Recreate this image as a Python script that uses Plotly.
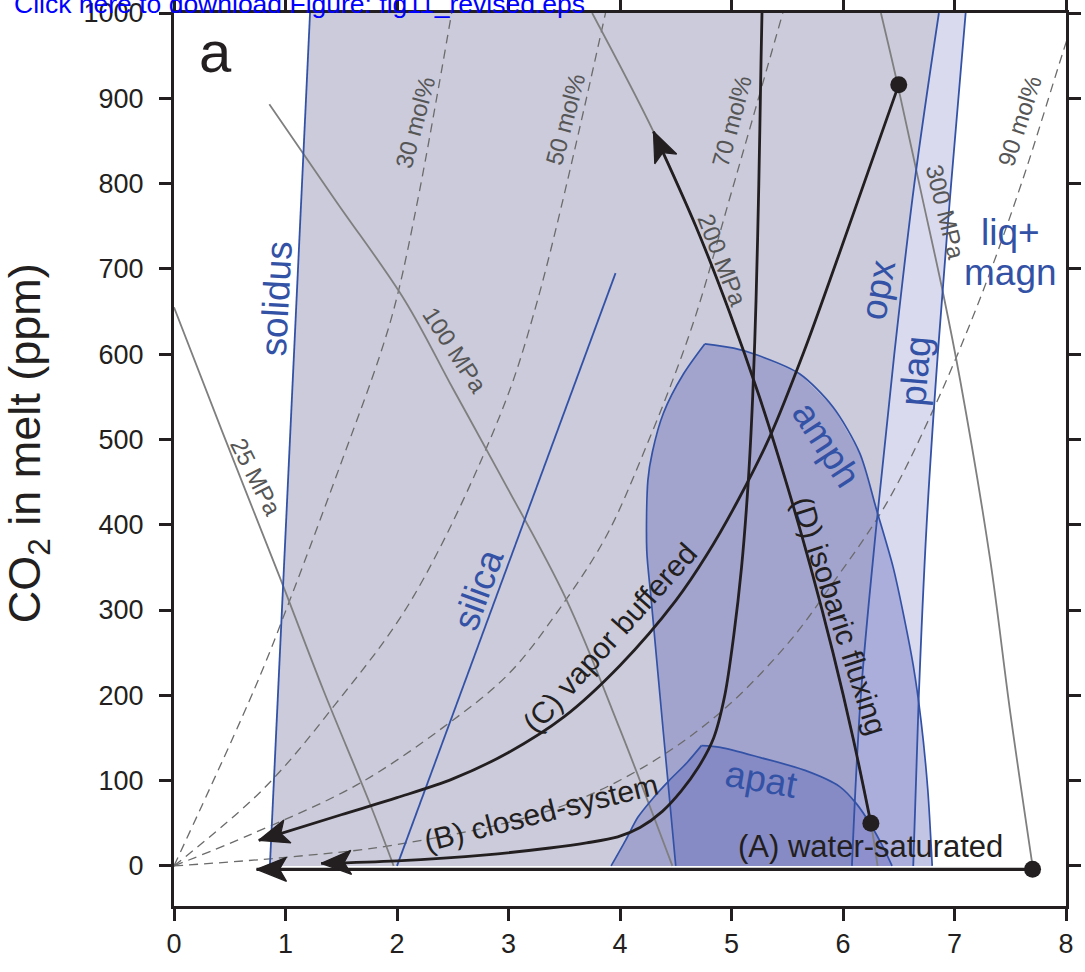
import math
import plotly.graph_objects as go

# ---------------------------------------------------------------
# Phase boundaries: H2O in melt (wt%) vs CO2 in melt (ppm)
# ---------------------------------------------------------------
solidus_h2o = [0.86, 1.22]
solidus_co2 = [0, 1000]

silica_h2o = [2.00, 3.96]
silica_co2 = [0, 695]

opx_h2o = [6.08, 6.16, 6.30, 6.46, 6.64, 6.86]
opx_co2 = [0, 200, 400, 600, 800, 1000]

plag_h2o = [6.63, 6.68, 6.75, 6.85, 6.97, 7.10]
plag_co2 = [0, 200, 400, 600, 800, 1000]

# amphibole field: low-H2O limb (bottom -> apex) and high-H2O limb (apex -> bottom)
amph_left_h2o = [4.50, 4.39, 4.28, 4.24, 4.25, 4.29, 4.39, 4.57, 4.76]
amph_left_co2 = [0, 155, 312, 370, 452, 485, 531, 577, 612]
amph_right_h2o = [4.76, 5.02, 5.23, 5.61, 5.91, 6.15, 6.30, 6.45, 6.55, 6.63, 6.70, 6.76, 6.80]
amph_right_co2 = [612, 607, 599, 577, 538, 484, 418, 350, 290, 235, 170, 90, 0]

# apatite field
apat_left_h2o = [3.92, 4.05, 4.16, 4.30, 4.44, 4.60, 4.73]
apat_left_co2 = [0, 30, 57, 80, 100, 121, 141]
apat_right_h2o = [4.73, 4.90, 5.26, 5.66, 5.97, 6.12, 6.25, 6.36, 6.44]
apat_right_co2 = [141, 139, 127, 112, 93, 73, 48, 22, 0]

# Vapour-composition isopleths (mol% H2O in vapour)
iso30_h2o = [0, 0.73, 1.04, 1.52, 1.85, 2.00, 2.20, 2.49]
iso30_co2 = [0, 210, 312, 480, 600, 667, 790, 1000]
iso50_h2o = [0, 0.80, 1.45, 2.13, 2.92, 3.26, 3.87]
iso50_co2 = [0, 90, 190, 312, 527, 663, 1000]
iso70_h2o = [0, 0.69, 1.64, 2.42, 3.00, 3.45, 3.87, 4.22, 4.64, 5.00, 5.46]
iso70_co2 = [0, 37, 95, 163, 225, 300, 385, 487, 630, 790, 1000]
iso90_h2o = [0, 1.00, 2.00, 3.37, 4.20, 4.90, 5.50, 5.90, 6.39, 6.81, 7.22, 7.60, 7.97, 8.10]
iso90_co2 = [0, 10, 25, 65, 115, 180, 260, 330, 425, 535, 662, 800, 953, 1005]

# Isobars
p25_h2o = [0, 0.43, 0.95, 1.34, 1.76, 1.97]
p25_co2 = [655, 510, 338, 206, 72, 0]
p100_h2o = [0.855, 1.45, 2.07, 2.50, 2.92, 3.52, 4.00, 4.47]
p100_co2 = [893, 780, 663, 560, 460, 312, 160, 0]
p200_h2o = [3.75, 4.30, 4.68, 4.98, 5.25, 5.49, 5.71, 5.91, 6.09, 6.25, 6.31]
p200_co2 = [1000, 861, 750, 650, 550, 450, 350, 250, 150, 50, 0]
p300_h2o = [6.34, 6.49, 6.70, 6.90, 7.05, 7.32, 7.50, 7.70]
p300_co2 = [1000, 916, 790, 670, 570, 359, 180, 0]

# Degassing paths
pathA_h2o = [7.70, 0.74]
pathA_co2 = [-4, -4]
pathB_h2o = [5.275, 5.265, 5.245, 5.22, 5.19, 5.15, 5.09, 5.02, 4.94, 4.84, 4.70,
             4.55, 4.38, 4.18, 3.98, 3.70, 3.37, 2.80, 2.00, 1.32]
pathB_co2 = [1010, 945, 800, 663, 550, 450, 350, 270, 200, 150, 115,
             88, 64, 45, 34, 27, 21, 13, 6, 3]
pathC_h2o = [6.50, 6.22, 5.94, 5.65, 5.35, 5.06, 4.78, 4.50, 4.00, 3.50, 3.00,
             2.50, 2.00, 1.50, 0.76]
pathC_co2 = [916, 812, 708, 603, 505, 429, 365, 311, 235, 175, 133,
             102, 80, 60, 30]
pathD_h2o = [6.25, 6.09, 5.91, 5.71, 5.49, 5.25, 4.98, 4.68, 4.30]
pathD_co2 = [50, 150, 250, 350, 450, 550, 650, 750, 861]

x_ticks = [0, 1, 2, 3, 4, 5, 6, 7, 8]
y_ticks = [0, 100, 200, 300, 400, 500, 600, 700, 800, 900, 1000]

# ---------------------------------------------------------------
INK = "#231F20"
BLUE = "#3352A6"
ISOBAR = "#7F7F7F"
DASHC = "#6B6B6B"
LABELGRAY = "#555555"
FONT = "Liberation Sans, Arial, Helvetica, sans-serif"

W, H = 1085, 972
M_L, M_R, M_T, M_B = 174, 19, 13, 66
X_RANGE = [0, 8]
Y_RANGE = [-47, 1000]
PX_X = (W - M_L - M_R) / (X_RANGE[1] - X_RANGE[0])
PX_Y = (H - M_T - M_B) / (Y_RANGE[1] - Y_RANGE[0])

fig = go.Figure()


def line(x, y, color, width, dash=None, shape="linear", smoothing=1.0):
    fig.add_trace(go.Scatter(
        x=x, y=y, mode="lines", hoverinfo="skip", showlegend=False,
        line=dict(color=color, width=width, dash=dash, shape=shape,
                  smoothing=smoothing if shape == "spline" else None)))


def field(x, y, fill):
    fig.add_trace(go.Scatter(
        x=x, y=y, mode="lines", fill="toself", fillcolor=fill,
        hoverinfo="skip", showlegend=False,
        line=dict(color="rgba(0,0,0,0)", width=0)))


# stability fields (plag field, opx+plag field, amph, apatite)
field(solidus_h2o + plag_h2o[::-1], solidus_co2 + plag_co2[::-1], "#D9DAEE")
field(solidus_h2o + opx_h2o[::-1], solidus_co2 + opx_co2[::-1], "#CBCBDB")
field(amph_left_h2o + amph_right_h2o[1:], amph_left_co2 + amph_right_co2[1:],
      "rgba(90,95,182,0.36)")
field(apat_left_h2o + apat_right_h2o[1:], apat_left_co2 + apat_right_co2[1:],
      "rgba(90,95,182,0.36)")

# isopleths
for xs, ys in [(iso30_h2o, iso30_co2), (iso50_h2o, iso50_co2),
               (iso70_h2o, iso70_co2), (iso90_h2o, iso90_co2)]:
    line(xs, ys, DASHC, 1.3, dash="9px,6px", shape="spline")

# isobars
for xs, ys in [(p25_h2o, p25_co2), (p100_h2o, p100_co2),
               (p200_h2o, p200_co2), (p300_h2o, p300_co2)]:
    line(xs, ys, ISOBAR, 1.8, shape="spline")

# phase-in curves and field outlines
line(solidus_h2o, solidus_co2, BLUE, 1.8)
line(silica_h2o, silica_co2, BLUE, 1.8)
line(opx_h2o, opx_co2, BLUE, 1.8, shape="spline")
line(plag_h2o, plag_co2, BLUE, 1.8, shape="spline")
for xs, ys in [(amph_left_h2o, amph_left_co2), (amph_right_h2o, amph_right_co2),
               (apat_left_h2o, apat_left_co2), (apat_right_h2o, apat_right_co2)]:
    line(xs, ys, BLUE, 1.7, shape="spline", smoothing=0.8)

# degassing paths
line(pathA_h2o, pathA_co2, INK, 3.2)
line(pathB_h2o, pathB_co2, INK, 2.8, shape="spline", smoothing=0.9)
line(pathC_h2o, pathC_co2, INK, 2.8, shape="spline", smoothing=0.9)
line(pathD_h2o, pathD_co2, INK, 2.8, shape="spline", smoothing=0.9)

# starting points
fig.add_trace(go.Scatter(
    x=[pathC_h2o[0], pathD_h2o[0], pathA_h2o[0]],
    y=[pathC_co2[0], pathD_co2[0], pathA_co2[0]],
    mode="markers", hoverinfo="skip", showlegend=False,
    marker=dict(color=INK, size=17, line=dict(width=0))))


def arrow_head(xs, ys, length=30, half_width=12, notch=7):
    """Filled barbed head at the last point of a path, aligned to its last segment."""
    tx, ty = xs[-1], ys[-1]
    dx = (tx - xs[-2]) * PX_X
    dy = (ty - ys[-2]) * PX_Y
    n = math.hypot(dx, dy)
    ux, uy = dx / n, dy / n
    px, py = -uy, ux
    pts = [(0, 0),
           (-length * ux + half_width * px, -length * uy + half_width * py),
           (-(length - notch) * ux, -(length - notch) * uy),
           (-length * ux - half_width * px, -length * uy - half_width * py),
           (0, 0)]
    fig.add_trace(go.Scatter(
        x=[tx + p[0] / PX_X for p in pts], y=[ty + p[1] / PX_Y for p in pts],
        mode="lines", fill="toself", fillcolor=INK, hoverinfo="skip",
        showlegend=False, line=dict(color=INK, width=1.2)))


arrow_head(pathA_h2o, pathA_co2)
arrow_head(pathB_h2o, pathB_co2)
arrow_head(pathC_h2o, pathC_co2)
arrow_head(pathD_h2o, pathD_co2)


def label(text, x, y, angle=0, color=INK, size=28, **kw):
    fig.add_annotation(x=x, y=y, xref="x", yref="y", text=text,
                       textangle=angle, showarrow=False,
                       font=dict(family=FONT, size=size, color=color), **kw)


# field labels
label("solidus", 0.92, 665, -87, BLUE, 37)
label("silica", 2.73, 324, -70, BLUE, 37)
label("amph", 5.85, 494, 57, BLUE, 37)
label("apat", 5.27, 101, 10, BLUE, 37)
label("opx", 6.31, 675, -80, BLUE, 37)
label("plag", 6.65, 581, -85, BLUE, 37)
label("liq+", 7.50, 743, 0, BLUE, 37)
label("magn", 7.50, 696, 0, BLUE, 37)

# isopleth labels
label("30 mol%", 2.16, 872, -75, LABELGRAY, 24)
label("50 mol%", 3.51, 875, -75, LABELGRAY, 24)
label("70 mol%", 5.00, 873, -75, LABELGRAY, 24)
label("90 mol%", 7.58, 873, -72, LABELGRAY, 24)

# isobar labels
label("25 MPa", 0.73, 456, 63, LABELGRAY, 24)
label("100 MPa", 2.52, 604, 57, LABELGRAY, 24)
label("200 MPa", 4.92, 710, 69, LABELGRAY, 24)
label("300 MPa", 6.915, 767, 76, LABELGRAY, 24)

# path labels
label("(A) water-saturated", 6.25, 23, 0, INK, 31)
label("(B) closed-system", 3.29, 63, -14, INK, 30)
label("(C) vapor buffered", 3.91, 268, -48, INK, 30)
label("(D) isobaric fluxing", 5.97, 294, 72, INK, 30)

# panel letter
label("a", 0.37, 955, 0, INK, 58)

# y-axis title
fig.add_annotation(x=-0.198, y=0.518, xref="paper", yref="paper",
                   text="CO<sub>2</sub> in melt (ppm)", textangle=-90,
                   showarrow=False,
                   font=dict(family=FONT, size=45, color=INK))

# download link
fig.add_annotation(x=-0.1816, y=1, xref="paper", yref="paper",
                   xanchor="left", yanchor="middle", yshift=9,
                   text="Click here to download Figure: fig11_revised.eps",
                   showarrow=False,
                   font=dict(family=FONT, size=26.5, color="#0000FF"))

axis_common = dict(showline=True, linewidth=3, linecolor=INK, mirror="ticks",
                   ticks="outside", ticklen=12, tickwidth=3, tickcolor=INK,
                   showgrid=False, zeroline=False, automargin=False,
                   ticklabeloverflow="allow",
                   tickfont=dict(family=FONT, size=27, color=INK))

fig.update_layout(
    width=W, height=H,
    margin=dict(l=M_L, r=M_R, t=M_T, b=M_B),
    paper_bgcolor="white", plot_bgcolor="white",
    xaxis=dict(range=X_RANGE, tickvals=x_ticks, **axis_common),
    yaxis=dict(range=Y_RANGE, tickvals=y_ticks, ticklabelstandoff=10, **axis_common),
)

fig.write_html("out.html")
